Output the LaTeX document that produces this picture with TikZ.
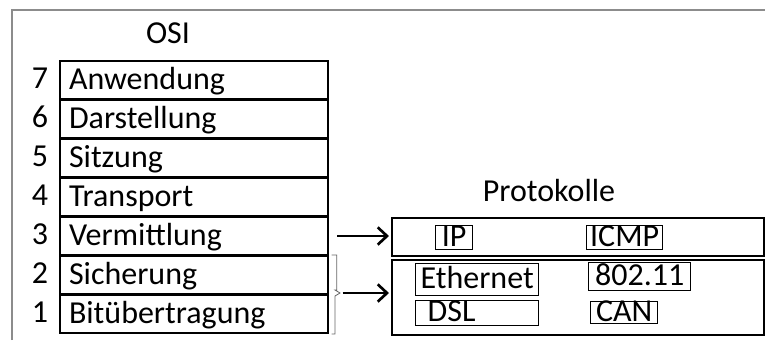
\documentclass[tikz,border=0pt]{standalone}
\usepackage{fontspec}
\setmainfont{Carlito}
\usetikzlibrary{arrows.meta,calc}
\begin{document}
\begin{tikzpicture}[x=0.75pt,y=-0.75pt,
  txt/.style={font=\fontsize{24pt}{28pt}\selectfont, inner sep=0pt},
  osirow/.style={txt, draw, line width=1.5pt, anchor=north west,
    minimum width=201pt, minimum height=28.5pt, text width=187.5pt,
    inner xsep=6.75pt, align=left, text height=17.5pt, text depth=3pt},
  layernum/.style={txt, text height=17.5pt, text depth=3pt},
  protbox/.style={draw, line width=1.5pt, anchor=north west, minimum width=279pt, inner sep=0pt},
  pbox/.style={txt, draw, line width=1pt, anchor=north west,
    text height=14.5pt, text depth=2pt, inner sep=0pt},
  arr/.style={line width=1.8pt, -{Straight Barb[length=7pt,width=13pt,line width=2pt]}},
  bracket/.style={draw=gray!80!black, line width=0.6pt}
]
\useasboundingbox (0,0) rectangle (765,340);

% frame
\draw[gray!90, line width=1.1pt] (12,340) -- (12,10) -- (765,10);

% OSI stack
\node[txt, anchor=base] (osititle) at (168,43) {OSI};
\foreach \n/\name/\top in {7/Anwendung/60, 6/Darstellung/99, 5/Sitzung/138,
    4/Transport/177, 3/Vermittlung/216, 2/Sicherung/255, 1/Bitübertragung/294} {
  \node[osirow] (row\n) at (59,\top) {\name};
  \node[layernum] (num\n) at (40,\top+19) {\n};
}

% protocol area
\node[txt, anchor=base] (prottitle) at (549,201) {Protokolle};
\node[protbox, minimum height=28.5pt] (upper) at (391,217) {};
\node[protbox, minimum height=56.25pt] (lower) at (391,259) {};

\node[pbox, minimum width=27.75pt, minimum height=18pt] (ip) at (435,225) {IP};
\node[pbox, minimum width=57pt, minimum height=18pt] (icmp) at (586,225) {ICMP};
\node[pbox, minimum width=92.25pt, minimum height=24pt] (eth) at (415,263) {Ethernet};
\node[pbox, minimum width=76.5pt, minimum height=21pt] (wlan) at (588,262) {802.11};
\node[pbox, minimum height=18.75pt, text width=74.25pt, inner xsep=9pt, align=left] (dsl) at (415,300) {DSL};
\node[pbox, minimum width=50.25pt, minimum height=16.5pt] (can) at (590,301) {CAN};

% bracket grouping layers 1 and 2
\coordinate (tip) at (340,293);
\draw[bracket] ([xshift=2pt]row2.north east) -- ++(5,0) |- ($(tip)+(-5,-3)$) -- (tip)
  -- ($(tip)+(-5,3)$) |- ([xshift=2pt]row1.south east);

% arrows
\draw[arr] ([xshift=6pt]row3.east) -- ([xshift=-1.5pt]row3.east -| upper.west);
\draw[arr] ([xshift=2pt]tip) -- ([xshift=-1.5pt]tip -| lower.west);
\end{tikzpicture}
\end{document}
